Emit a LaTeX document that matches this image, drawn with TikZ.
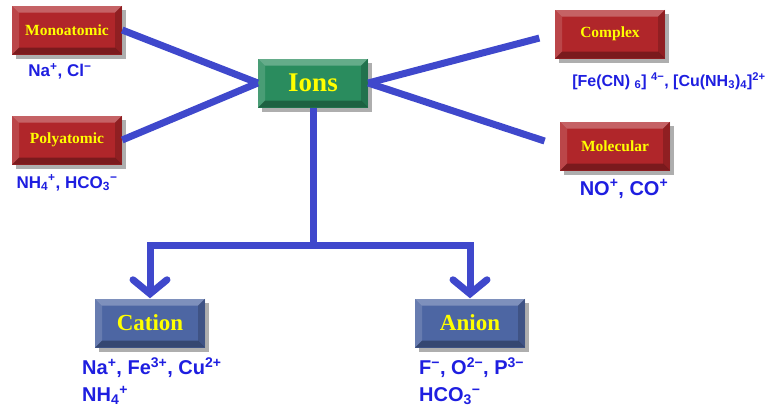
\documentclass[tikz,border=0pt]{standalone}
\usepackage{fontspec}
\setmainfont{Liberation Serif}
\setsansfont{Liberation Sans}
\usepackage{tikz}
\usetikzlibrary{arrows.meta,positioning,shadows}
\definecolor{ionred}{HTML}{B0262A}
\definecolor{iongreen}{HTML}{2A8C5E}
\definecolor{ionblue}{HTML}{4D66A3}
\definecolor{ionline}{HTML}{3F48CC}
\definecolor{ionink}{HTML}{1E1EE0}
\definecolor{ionyellow}{HTML}{FFFF00}
\tikzset{
  bx/.style={minimum width=110pt, minimum height=49pt, inner sep=0pt, text=ionyellow,
    font=\bfseries\fontsize{15.5}{18}\selectfont,
    drop shadow={shadow xshift=4pt, shadow yshift=-4pt, opacity=0.45, fill=black!70},
    path picture={
      \fill[white,opacity=0.28] (path picture bounding box.north west) -- (path picture bounding box.north east)
        -- ([shift={(-7pt,-7pt)}]path picture bounding box.north east) -- ([shift={(7pt,-7pt)}]path picture bounding box.north west) -- cycle;
      \fill[white,opacity=0.15] (path picture bounding box.north west) -- ([shift={(7pt,-7pt)}]path picture bounding box.north west)
        -- ([shift={(7pt,7pt)}]path picture bounding box.south west) -- (path picture bounding box.south west) -- cycle;
      \fill[black,opacity=0.3] (path picture bounding box.south west) -- (path picture bounding box.south east)
        -- ([shift={(-7pt,7pt)}]path picture bounding box.south east) -- ([shift={(7pt,7pt)}]path picture bounding box.south west) -- cycle;
      \fill[black,opacity=0.18] (path picture bounding box.north east) -- (path picture bounding box.south east)
        -- ([shift={(-7pt,7pt)}]path picture bounding box.south east) -- ([shift={(-7pt,-7pt)}]path picture bounding box.north east) -- cycle;
    }},
  redbx/.style={bx, fill=ionred},
  grnbx/.style={bx, fill=iongreen, font=\bfseries\fontsize{27}{30}\selectfont},
  blubx/.style={bx, fill=ionblue, font=\bfseries\fontsize{23}{26}\selectfont},
  conn/.style={line width=7pt, color=ionline},
  arr/.style={conn, -{Straight Barb[length=14pt, width=34pt, line cap=round]}},
  lbl/.style={font=\sffamily\bfseries\fontsize{17}{28}\selectfont, text=ionink, inner sep=0pt, align=left},
  biglbl/.style={lbl, font=\sffamily\bfseries\fontsize{20}{27}\selectfont},
}
\begin{document}
\begin{tikzpicture}[x=1pt,y=-1pt]
  \useasboundingbox (0,0) rectangle (770,413);
  % boxes
  \node[redbx] (mono) at (67,30) {Monoatomic};
  \node[redbx] (poly) at (67,140) {Polyatomic};
  \node[grnbx] (ions) at (313,83) {Ions};
  \node[redbx] (cplx) at (610,34) {Complex};
  \node[redbx] (molec) at (615,146) {Molecular};
  \node[blubx] (cat) at (150,323) {Cation};
  \node[blubx] (an) at (470,323) {Anion};
  % connectors
  \foreach \b in {mono,poly} \draw[conn] (\b.east) -- (ions.west);
  \foreach \b in {cplx,molec} \draw[conn, shorten >=16pt] (ions.east) -- (\b.west);
  \coordinate (split) at (313,245);
  \draw[conn] (ions.south) -- (split);
  \draw[arr] (split) -| (cat.north);
  \draw[arr] (split) -| (an.north);
  % examples
  \node[lbl] (monoex) at (60,71) {Na\textsuperscript{+}, Cl\textsuperscript{−}};
  \node[lbl] (polyex) at (67,183) {NH\textsubscript{4}\textsuperscript{+}, HCO\textsubscript{3}\textsuperscript{−}};
  \node[lbl, font=\sffamily\bfseries\fontsize{16}{20}\selectfont] (cplxex) at (669,81) {[Fe(CN) \textsubscript{6}] \textsuperscript{4−}, [Cu(NH\textsubscript{3})\textsubscript{4}]\textsuperscript{2+}};
  \node[biglbl] (molecex) at (624,189) {NO\textsuperscript{+}, CO\textsuperscript{+}};
  \node[biglbl, anchor=west] (catex) at (82,381) {Na\textsuperscript{+}, Fe\textsuperscript{3+}, Cu\textsuperscript{2+}\\NH\textsubscript{4}\textsuperscript{+}};
  \node[biglbl, anchor=west] (anex) at (419,381) {F\textsuperscript{−}, O\textsuperscript{2−}, P\textsuperscript{3−}\\HCO\textsubscript{3}\textsuperscript{−}};
\end{tikzpicture}
\end{document}
